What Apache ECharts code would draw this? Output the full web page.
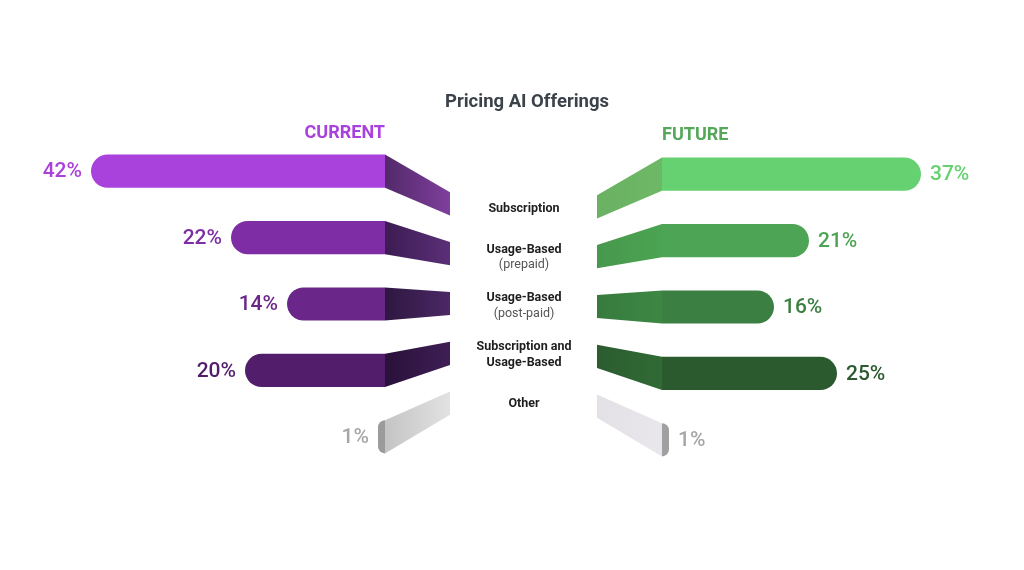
<!DOCTYPE html>
<html>
<head>
<meta charset="utf-8">
<title>Pricing AI Offerings</title>
<script src="https://cdn.jsdelivr.net/npm/echarts@6/dist/echarts.min.js"></script>
<style>
  html, body { margin: 0; padding: 0; background: #fff; }
  #chart { width: 1024px; height: 570px; }
</style>
</head>
<body>
<div id="chart"></div>
<script>
// values (percent of respondents)
var categoryNames = ['Subscription', 'Usage-Based', 'Usage-Based', 'Subscription and\nUsage-Based', 'Other'];
var categoryNotes = ['', '(prepaid)', '(post-paid)', '', ''];
var currentValues = [42, 22, 14, 20, 1];
var futureValues = [37, 21, 16, 25, 1];

// palettes: bar face, side panel gradient (near bar -> towards labels), value label
var currentFace = ['#A941DD', '#7E2DA5', '#6A2789', '#521E6C', '#9B9B9B'];
var currentSide = [['#52296A', '#7F3F9D'], ['#3C1C52', '#5B2F78'], ['#2D1740', '#4C2866'], ['#29113A', '#3F1E55'], ['#C4C4C4', '#E2E2E2']];
var currentText = ['#A941DD', '#7E2DA5', '#6A2789', '#521E6C', '#A6A6A6'];
var futureFace = ['#66D170', '#4EA455', '#3C7F42', '#2C5A2F', '#A0A0A0'];
var futureSide = [['#6DB866', '#6BB163'], ['#4BA451', '#47984D'], ['#3C8843', '#387A3E'], ['#316A35', '#2C5C30'], ['#E9E7EB', '#E3E1E5']];
var futureText = ['#66D170', '#4EA455', '#3C7F42', '#2C5A2F', '#A6A6A6'];

var FONT = 'Roboto, "Noto Sans", sans-serif';

function labelFormatter(value, idx) {
	var lines = categoryNames[idx].split('\n');
	var s = lines.map(function (l) { return '{b|' + l + '}'; }).join('\n');
	if (categoryNotes[idx])
		s += '\n{n|' + categoryNotes[idx] + '}';
	return s;
}

// dir = +1 when the bar's inner end points right (towards the centre)
function sideRenderer(dir, face, side, text) {
	return function (params, api) {
		var i = params.dataIndex;
		var v = api.value(0);
		var tip = api.coord([v, i]);
		var base = api.coord([0, i]);
		var cy = base[1];
		var h = api.size([0, 1])[1] * 0.5;
		var cs = params.coordSys;
		var midY = cs.y + cs.height / 2 - 2;
		var ty = midY + (cy - midY) * 0.75;
		var th = h * 0.7;
		var x1 = base[0] + dir * 65;
		var r = h / 2;

		var g = side[i];
		var grad = dir > 0
			? new echarts.graphic.LinearGradient(0, 0, 1, 0, [{ offset: 0, color: g[0] }, { offset: 1, color: g[1] }])
			: new echarts.graphic.LinearGradient(0, 0, 1, 0, [{ offset: 0, color: g[1] }, { offset: 1, color: g[0] }]);

		var x0 = Math.min(tip[0], base[0]);
		var w = Math.abs(base[0] - tip[0]);
		return {
			type: 'group',
			children: [
				{
					type: 'polygon',
					shape: { points: [[base[0], cy - h / 2], [x1, ty - th / 2], [x1, ty + th / 2], [base[0], cy + h / 2]] },
					style: { fill: grad }
				},
				{
					type: 'rect',
					shape: { x: x0, y: cy - h / 2, width: w, height: h, r: dir > 0 ? [r, 0, 0, r] : [0, r, r, 0] },
					style: { fill: face[i] }
				},
				{
					type: 'text',
					x: tip[0] - dir * 9,
					y: cy + 1,
					style: {
						text: v + '%',
						fill: text[i],
						font: '500 21px ' + FONT,
						align: dir > 0 ? 'right' : 'left',
						verticalAlign: 'middle'
					}
				}
			]
		};
	};
}

var chart = echarts.init(document.getElementById('chart'), null, { renderer: 'canvas' });

function hiddenCat(gridIndex) {
	return {
		gridIndex: gridIndex, type: 'category', data: categoryNames, inverse: true,
		axisLine: { show: false }, axisTick: { show: false }, axisLabel: { show: false }, splitLine: { show: false }
	};
}

chart.setOption({
	backgroundColor: '#ffffff',
	animation: false,
	title: {
		text: 'Pricing AI Offerings',
		left: 440,
		top: 88,
		textStyle: { fontFamily: FONT, fontSize: 18.5, fontWeight: 'bold', color: '#3B424A' }
	},
	graphic: [
		{ type: 'text', x: 385, y: 133, style: { text: 'CURRENT', font: 'bold 18px ' + FONT, fill: '#A941DD', align: 'right', verticalAlign: 'middle' } },
		{ type: 'text', x: 662, y: 135, style: { text: 'FUTURE', font: 'bold 18px ' + FONT, fill: '#55A85A', align: 'left', verticalAlign: 'middle' } }
	],
	grid: [
		{ left: 35, width: 350, top: 138, height: 332 },
		{ left: 662, width: 350, top: 141, height: 332 },
		{ left: 524, width: 1, top: 184, height: 244 }
	],
	xAxis: [
		{ gridIndex: 0, type: 'value', min: 0, max: 50, inverse: true, show: false },
		{ gridIndex: 1, type: 'value', min: 0, max: 50, show: false },
		{ gridIndex: 2, type: 'value', min: 0, max: 1, show: false }
	],
	yAxis: [
		hiddenCat(0),
		hiddenCat(1),
		{
			gridIndex: 2, type: 'category', data: categoryNames, inverse: true,
			axisLine: { show: false }, axisTick: { show: false }, splitLine: { show: false },
			axisLabel: {
				margin: 0, align: 'center', verticalAlign: 'middle',
				formatter: labelFormatter,
				rich: {
					b: { fontFamily: FONT, fontSize: 12.5, fontWeight: 'bold', color: '#1E1E1E', lineHeight: 15.5, align: 'center' },
					n: { fontFamily: FONT, fontSize: 12.5, color: '#555555', lineHeight: 15.5, align: 'center' }
				}
			}
		}
	],
	series: [
		{
			name: 'CURRENT', type: 'custom', xAxisIndex: 0, yAxisIndex: 0,
			renderItem: sideRenderer(1, currentFace, currentSide, currentText),
			encode: { x: 0, y: 1 },
			data: currentValues.map(function (v, i) { return [v, i]; })
		},
		{
			name: 'FUTURE', type: 'custom', xAxisIndex: 1, yAxisIndex: 1,
			renderItem: sideRenderer(-1, futureFace, futureSide, futureText),
			encode: { x: 0, y: 1 },
			data: futureValues.map(function (v, i) { return [v, i]; })
		}
	]
});
</script>
</body>
</html>
